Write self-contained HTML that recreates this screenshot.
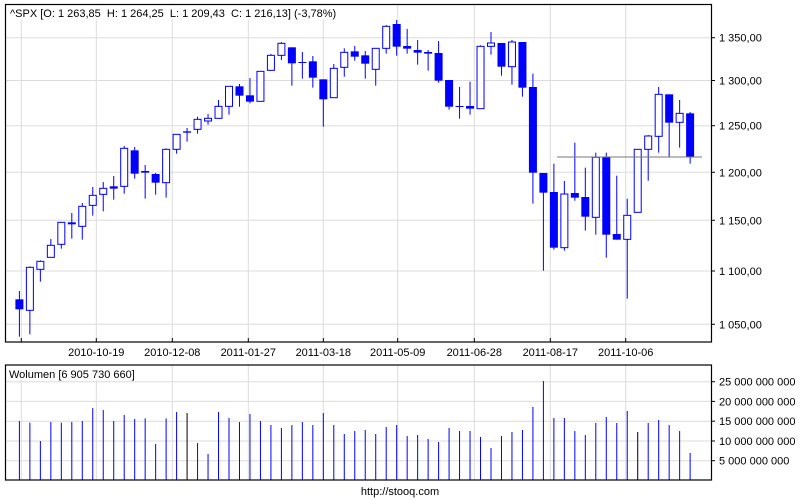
<!DOCTYPE html>
<html><head><meta charset="utf-8"><style>
html,body{margin:0;padding:0;background:#fff;}
svg{display:block;font-family:"Liberation Sans",sans-serif;}
</style></head><body>
<svg id="s" width="800" height="500" xmlns="http://www.w3.org/2000/svg"></svg>
<script>
var s=document.getElementById('s');var h='';
function L(x1,y1,x2,y2,c,w){h+='<line x1="'+x1+'" y1="'+y1+'" x2="'+x2+'" y2="'+y2+'" stroke="'+c+'" stroke-width="'+(w||1)+'"/>';}
function T(x,y,t,a,sz){h+='<text x="'+x+'" y="'+y+'" font-size="'+(sz||11)+'" text-anchor="'+(a||'start')+'" fill="#000">'+t+'</text>';}
var gx=[21.3,96.3,172.3,248.3,323.3,397.7,474.3,550.3,625.7];
var py=[[37.7,'1 350,00'],[80.5,'1 300,00'],[125.7,'1 250,00'],[172.3,'1 200,00'],[220.3,'1 150,00'],[271,'1 100,00'],[324.3,'1 050,00']];
// main grid
py.forEach(function(p){L(5,p[0],711,p[0],'#dcdcdc');L(711,p[0],715,p[0],'#000');T(719,p[0]+4,p[1]);});
gx.forEach(function(x){L(x,4,x,342,'#dcdcdc');L(x,338,x,342,'#000');});
var lab=['2010-10-19','2010-12-08','2011-01-27','2011-03-18','2011-05-09','2011-06-28','2011-08-17','2011-10-06'];
lab.forEach(function(t,i){T(gx[i+1],356,t,'middle');});
// volume grid
var vy=[[381.7,'25 000 000 000'],[401.4,'20 000 000 000'],[421.2,'15 000 000 000'],[441,'10 000 000 000'],[460.7,'5 000 000 000']];
vy.forEach(function(p){L(5,p[0],711,p[0],'#dcdcdc');L(711,p[0],715,p[0],'#000');T(719,p[0]+4,p[1]);});
gx.forEach(function(x){L(x,365,x,480,'#dcdcdc');});
// candles: top,bottom,high,low,filled (zoom px /3)
var C=[[898,928,873,1010,1],[802,931,799,1003,0],[784,808,781,845,0],[736,772,717,772,0],[667,733,667,746,0],[667,673,639,716,1],[619,679,609,719,0],[586,616,561,647,0],[565,583,546,634,0],[559,566,528,599,1],[445,559,438,581,0],[451,521,441,536,1],[513,518,495,596,1],[522,548,519,584,1],[448,548,445,593,0],[403,448,403,461,0],[394,398,384,425,1],[358,388,350,401,0],[355,363,342,374,0],[319,355,300,355,0],[259,319,259,344,0],[259,287,252,320,1],[286,305,234,310,1],[214,304,214,304,0],[166,211,162,211,0],[130,166,126,180,0],[142,190,142,257,1],[186,188,156,236,1],[184,233,168,263,1],[238,298,238,380,1],[205,293,192,293,0],[157,202,145,230,0],[154,170,138,182,1],[166,191,153,236,1],[145,208,145,257,0],[79,145,75,161,0],[72,140,60,167,1],
[138,146,87,161,1],[150,158,120,194,1],[156,161,150,212,1],[159,242,123,248,1],[240,320,240,329,1],[318,320,261,356,1],[318,326,245,344,1],[139,326,136,326,0],[129,139,96,164,0],[129,200,129,227,1],[126,200,120,254,0],[126,263,126,290,1],[261,518,221,611,1],[519,578,519,812,1],[576,743,491,749,1],[582,743,543,752,0],[579,593,428,602,1],[591,650,503,692,1],[472,652,458,704,0],[472,704,458,773,1],[702,719,527,719,1],[646,718,596,896,0],[448,637,448,637,0],[408,448,405,542,0],[283,409,261,458,0],[283,368,283,470,1],[340,367,300,443,0],[340,471,336,491,1]];
C.forEach(function(c,i){var x=19.4+10.48*i;var t=c[0]/3,b=c[1]/3,hi=c[2]/3,lo=c[3]/3;
 L(x,hi,x,lo,'#0000ff',1);
 var hh=Math.max(b-t,1);
 if(c[4])h+='<rect x="'+(x-4)+'" y="'+t+'" width="8" height="'+hh+'" fill="#0000ff"/>';
 else h+='<rect x="'+(x-3.5)+'" y="'+t+'" width="7" height="'+hh+'" fill="#fff" stroke="#0000ff" stroke-width="1"/>';
});
L(557,157,702,157,'#777',1);
// volume bars
var V=[183,188,243,186,188,186,183,144,150,183,165,177,175,252,175,156,159,249,282,156,174,186,162,183,195,204,195,186,195,159,195,222,213,210,222,201,195,228,225,237,246,204,213,213,231,264,228,216,210,141,63,174,174,213,225,189,171,189,153,216,189,180,195,213,279];
V.forEach(function(v,i){var x=19.4+10.48*i;L(x,360+v/3,x,480,(i==16||i==59)?'#000':'#0000ff',1);});
// frames
h+='<rect x="5.5" y="4.5" width="706" height="337.5" fill="none" stroke="#000" stroke-width="1.2"/>';
h+='<rect x="5.5" y="365" width="706" height="115" fill="none" stroke="#000" stroke-width="1.2"/>';
h+='<rect x="7" y="5.5" width="320" height="14" fill="#fff"/>';
T(10,17,'^SPX [O: 1 263,85&#160; H: 1 264,25&#160; L: 1 209,43&#160; C: 1 216,13] (-3,78%)');
h+='<rect x="7" y="366" width="126" height="14" fill="#fff"/>';
T(9,378,'Wolumen [6 905 730 660]');
T(400,495,'http://stooq.com','middle');
s.innerHTML=h;
</script>
</body></html>
